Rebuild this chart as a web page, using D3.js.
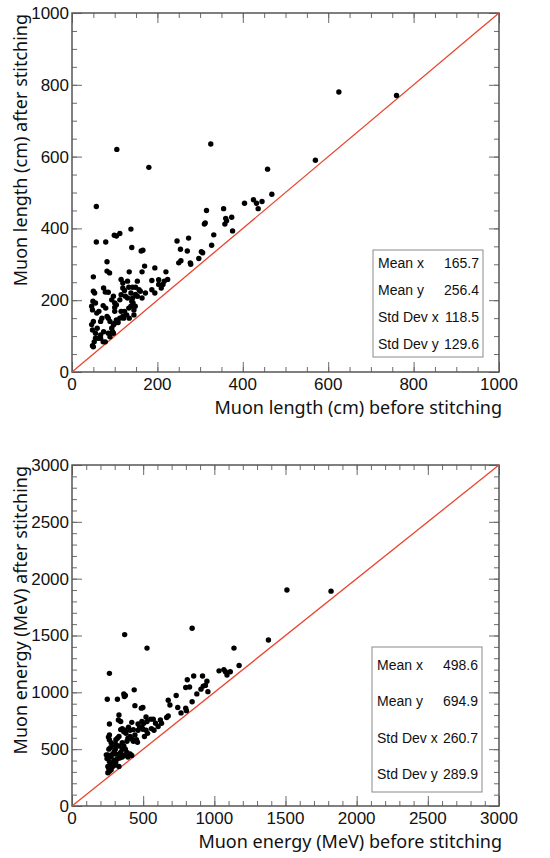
<!DOCTYPE html>
<html>
<head>
<meta charset="utf-8">
<script src="https://cdn.jsdelivr.net/npm/d3@7"></script>
<style>
  html, body { margin: 0; padding: 0; background: #fff; }
  svg { display: block; }
  .tick-label { font-family: "Liberation Sans", Arial, sans-serif; font-size: 17px; fill: #111; }
  .axis-title { font-family: "Noto Sans", "Open Sans", sans-serif; font-size: 18px; fill: #111; }
  .stat { font-family: "Liberation Sans", Arial, sans-serif; font-size: 14px; fill: #111; }
</style>
</head>
<body>
<svg id="chart"></svg>
<script>
// ---- data: top panel (muon length, cm) ----
const lengthBefore = [
  57, 57, 79, 99, 104, 112, 138, 140, 162, 166, 82, 82, 88, 50, 134, 164, 170, 194, 187, 203,
  220, 213, 216, 224, 246, 254, 250, 255, 273, 270, 277, 278, 303, 306, 297, 310, 312, 315, 332, 327,
  355, 360, 358, 362, 374, 376, 404, 50, 53, 49, 46, 48, 55, 74, 78, 85, 97, 100, 93, 73,
  79, 58, 63, 70, 67, 50, 46, 48, 59, 55, 67, 74, 82, 85, 89, 93, 97, 100, 85, 89,
  55, 61, 67, 52, 48, 50, 73, 78, 95, 97, 104, 108, 112, 119, 115, 123, 100, 104, 100, 112,
  115, 119, 123, 115, 119, 133, 142, 149, 130, 125, 130, 138, 142, 140, 143, 133, 138, 148, 145, 128,
  121, 134, 153, 157, 160, 164, 172, 153, 149, 187, 203, 194, 209, 145,
  105, 180, 325, 425, 432, 436, 445, 458, 468, 570, 625, 760
];
const lengthAfter = [
  461, 362, 362, 381, 379, 386, 398, 347, 337, 339, 307, 281, 276, 265, 279, 279, 295, 290, 255, 257,
  279, 244, 253, 258, 365, 342, 304, 310, 373, 337, 304, 300, 335, 332, 316, 412, 415, 450, 382, 353,
  455, 428, 412, 421, 431, 393, 470, 225, 220, 197, 183, 173, 192, 234, 223, 222, 211, 192, 201, 185,
  178, 164, 169, 150, 141, 141, 132, 117, 122, 108, 103, 112, 155, 150, 141, 122, 131, 136, 108, 98,
  94, 94, 94, 84, 73, 70, 84, 84, 112, 108, 145, 138, 150, 155, 169, 169, 169, 187, 180, 201,
  215, 234, 227, 258, 248, 236, 236, 236, 253, 211, 206, 220, 206, 197, 192, 178, 183, 183, 173, 159,
  150, 150, 253, 229, 225, 206, 220, 211, 216, 229, 244, 220, 234, 159,
  620, 570, 635, 480, 470, 455, 475, 565, 495, 590, 780, 770
];

// ---- data: bottom panel (muon energy, MeV) ----
const energyBefore = [
  370, 844, 527, 1138, 1174, 263, 248, 319, 364, 375, 368, 437, 442, 487, 498, 520, 527, 330, 263, 326,
  342, 420, 464, 491, 504, 553, 571, 621, 676, 688, 665, 676, 732, 743, 766, 799, 810, 799, 826, 855,
  877, 906, 922, 937, 948, 917, 955, 1033, 1067, 1078, 1089, 1112, 844, 804, 587, 605, 558, 576, 629, 509,
  531, 520, 491, 498, 464, 475, 442, 431, 397, 408, 375, 379, 353, 364, 342, 408, 420, 431, 453, 460,
  393, 386, 330, 319, 308, 263, 256, 263, 275, 286, 308, 330, 353, 364, 304, 297, 259, 270, 252, 263,
  275, 241, 246, 286, 308, 330, 342, 353, 375, 386, 375, 393, 408, 420, 263, 275, 286, 252, 259, 297,
  308, 319, 335, 353, 364, 252, 263, 275, 286, 308, 330,
  1380, 1510, 1820
];
const energyAfter = [
  1508, 1564, 1389, 1389, 1236, 1167, 939, 939, 986, 972, 964, 1022, 883, 861, 867, 783, 744, 800, 722, 756,
  744, 736, 722, 744, 728, 764, 764, 756, 930, 889, 778, 792, 972, 867, 819, 861, 1111, 1042, 1047, 1144,
  986, 1028, 1055, 1061, 1097, 1144, 1006, 1189, 1200, 1181, 1153, 1181, 917, 839, 728, 700, 681, 667, 728, 611,
  639, 667, 694, 675, 667, 694, 625, 672, 694, 667, 667, 639, 681, 653, 672, 611, 589, 569, 583, 561,
  597, 569, 611, 597, 583, 625, 606, 583, 556, 542, 542, 528, 556, 528, 500, 478, 500, 514, 450, 439,
  431, 450, 417, 458, 458, 450, 472, 500, 500, 472, 450, 431, 458, 444, 389, 375, 367, 347, 328, 403,
  389, 417, 422, 431, 444, 292, 306, 319, 347, 361, 347,
  1460, 1900, 1890
];

// ---- ticks and stats ----
const lengthMajorTicks = [0, 200, 400, 600, 800, 1000];
const lengthMinorTicks = d3.range(0, 1001, 50);
const energyMajorTicks = [0, 500, 1000, 1500, 2000, 2500, 3000];
const energyMinorTicks = d3.range(0, 3001, 100);

const statLabels = ["Mean x", "Mean y", "Std Dev x", "Std Dev y"];
const lengthStats = ["165.7", "256.4", "118.5", "129.6"];
const energyStats = ["498.6", "694.9", "260.7", "289.9"];

const W = 550, H = 858;
const svg = d3.select('#chart').attr('width', W).attr('height', H);

function drawPanel(cfg) {
  const x = d3.scaleLinear().domain([0, cfg.max]).range([cfg.left, cfg.right]);
  const y = d3.scaleLinear().domain([0, cfg.max]).range([cfg.bottom, cfg.top]);
  const g = svg.append('g');

  // Minor + major ticks on all four sides, pointing inward
  const tickColor = '#6b6b6b';
  const sides = [
    { axis: d3.axisBottom(x), t: `translate(0,${cfg.bottom})` },
    { axis: d3.axisTop(x), t: `translate(0,${cfg.top})` },
    { axis: d3.axisLeft(y), t: `translate(${cfg.left},0)` },
    { axis: d3.axisRight(y), t: `translate(${cfg.right},0)` }
  ];
  sides.forEach(s => {
    [[cfg.minor, 5], [cfg.major, 10]].forEach(([vals, len]) => {
      const a = s.axis.tickValues(vals).tickSize(-len).tickFormat('');
      const ag = g.append('g').attr('transform', s.t).call(a);
      ag.select('.domain').remove();
      ag.selectAll('line').attr('stroke', tickColor).attr('stroke-width', 1);
    });
  });

  // Frame
  g.append('rect')
    .attr('x', cfg.left).attr('y', cfg.top)
    .attr('width', cfg.right - cfg.left).attr('height', cfg.bottom - cfg.top)
    .attr('fill', 'none').attr('stroke', '#555').attr('stroke-width', 1.5);

  // Tick labels
  g.append('g').selectAll('text').data(cfg.major).enter().append('text')
    .attr('class', 'tick-label')
    .attr('x', d => x(d)).attr('y', cfg.bottom + 18)
    .attr('text-anchor', 'middle')
    .text(d => d);
  g.append('g').selectAll('text').data(cfg.major).enter().append('text')
    .attr('class', 'tick-label')
    .attr('x', cfg.left - 3).attr('y', d => y(d))
    .attr('dy', '0.35em')
    .attr('text-anchor', 'end')
    .text(d => d);

  // Diagonal y = x
  g.append('line')
    .attr('x1', x(0)).attr('y1', y(0)).attr('x2', x(cfg.max)).attr('y2', y(cfg.max))
    .attr('stroke', '#e8462f').attr('stroke-width', 1.3);

  // Points
  g.append('g').selectAll('circle').data(cfg.xs.map((d, i) => [d, cfg.ys[i]])).enter()
    .append('circle')
    .attr('cx', d => x(d[0])).attr('cy', d => y(d[1]))
    .attr('r', 2.7).attr('fill', '#000');

  // Axis titles
  g.append('text').attr('class', 'axis-title')
    .attr('x', cfg.right + 3).attr('y', cfg.xTitleY)
    .attr('text-anchor', 'end').text(cfg.xTitle);
  g.append('text').attr('class', 'axis-title')
    .attr('transform', `translate(27,${cfg.top + 1}) rotate(-90)`)
    .attr('text-anchor', 'end').text(cfg.yTitle);

  // Stats box
  const b = cfg.box;
  g.append('rect').attr('x', b.x).attr('y', b.y).attr('width', b.w).attr('height', b.h)
    .attr('fill', '#fff').attr('stroke', '#8a8a8a').attr('stroke-width', 1);
  const rowH = b.h / statLabels.length;
  statLabels.forEach((lab, i) => {
    const cy = b.y + rowH * (i + 0.5);
    g.append('text').attr('class', 'stat').attr('x', b.x + 5).attr('y', cy).attr('dy', '0.35em').text(lab);
    g.append('text').attr('class', 'stat').attr('x', b.x + b.w - 4).attr('y', cy).attr('dy', '0.35em')
      .attr('text-anchor', 'end').text(cfg.stats[i]);
  });
}

drawPanel({
  max: 1000, left: 72, right: 499, top: 13, bottom: 372,
  major: lengthMajorTicks, minor: lengthMinorTicks,
  xs: lengthBefore, ys: lengthAfter, stats: lengthStats,
  xTitle: 'Muon length (cm) before stitching', xTitleY: 414,
  yTitle: 'Muon length (cm) after stitching',
  box: { x: 373, y: 250, w: 110, h: 107 }
});

drawPanel({
  max: 3000, left: 72, right: 499, top: 465, bottom: 806,
  major: energyMajorTicks, minor: energyMinorTicks,
  xs: energyBefore, ys: energyAfter, stats: energyStats,
  xTitle: 'Muon energy (MeV) before stitching', xTitleY: 848,
  yTitle: 'Muon energy (MeV) after stitching',
  box: { x: 372, y: 647, w: 110, h: 145 }
});
</script>
</body>
</html>
